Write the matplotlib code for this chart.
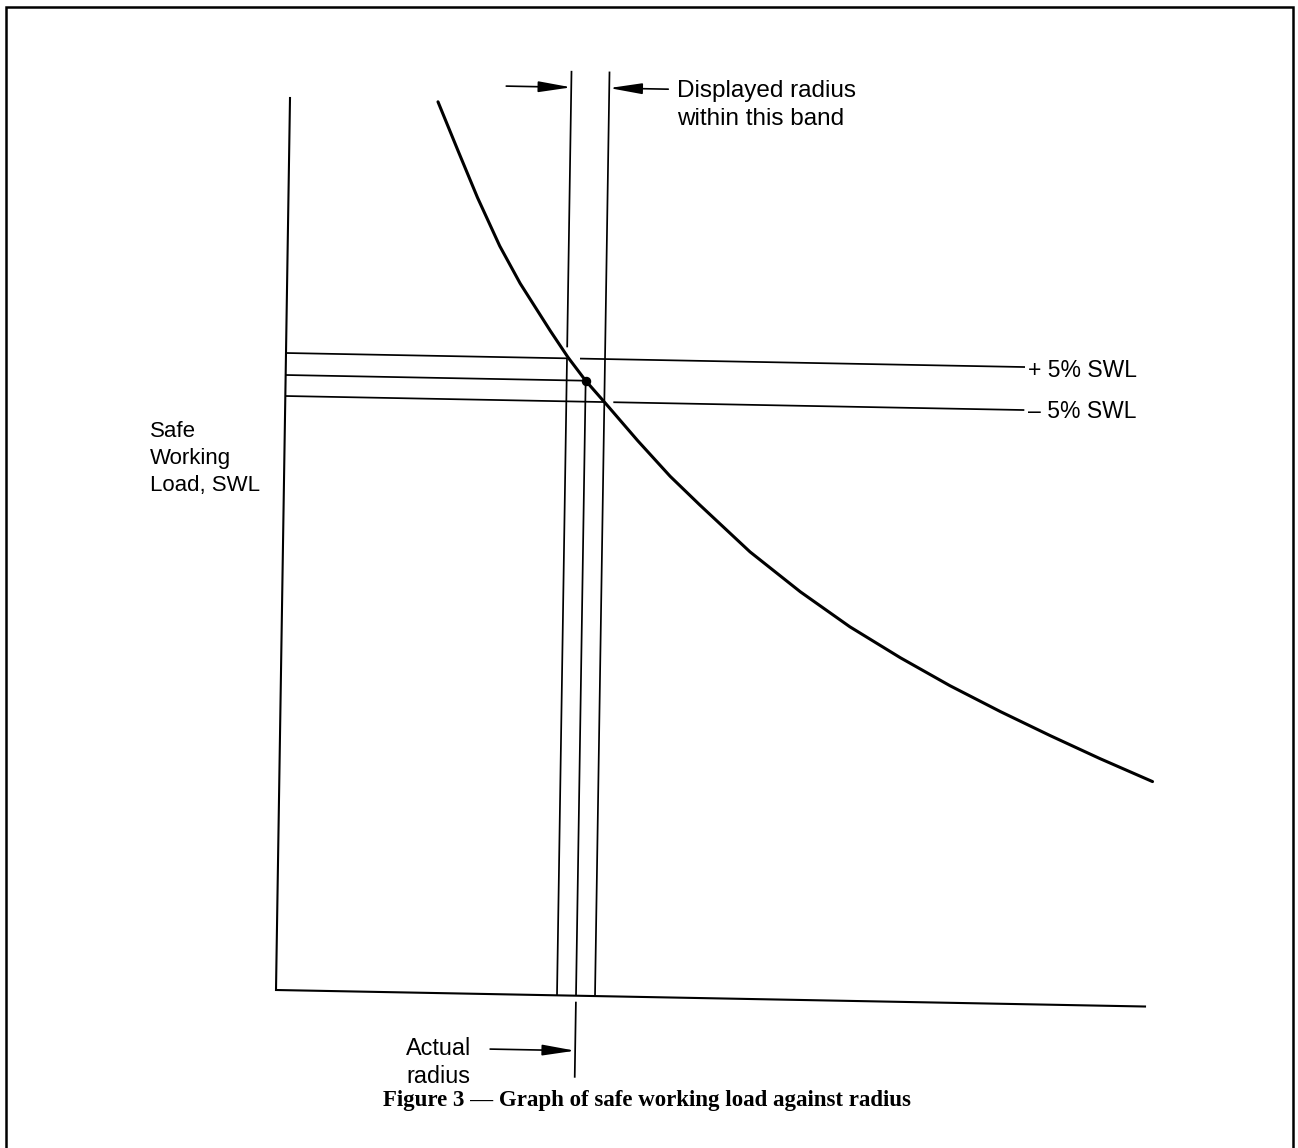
import matplotlib
matplotlib.use("Agg")
import matplotlib.pyplot as plt
from matplotlib.transforms import Affine2D
from matplotlib.lines import Line2D

W, H, DPI = 1298, 1148, 100

# ---- data (drawing units: radius, safe working load) ----
radius_curve = [14.8, 16.9, 18.9, 21.2, 23.3, 26.4, 28.2, 30.0, 32.0, 35.3, 38.6,
                41.6, 46.7, 51.8, 56.8, 61.9, 66.9, 72.0, 77.0, 82.0, 87.3]
swl_curve = [89.1, 84.2, 79.6, 74.8, 71.1, 66.4, 63.8, 61.5, 59.3, 55.6, 52.1,
             49.3, 44.7, 40.8, 37.4, 34.4, 31.7, 29.2, 26.9, 24.7, 22.5]
actual_radius = 30.0
actual_swl = 61.5
swl_limits = [63.7, 59.4]          # +5 % SWL, -5 % SWL
band_radius = [28.1, 31.9]         # displayed radius band
axis_extent = [86.9, 89.2]         # radius axis length, SWL axis height
limit_labels = ["+ 5% SWL", "\u2013 5% SWL"]
ylabel_lines = ["Safe", "Working", "Load, SWL"]
band_label_lines = ["Displayed radius", "within this band"]
actual_label_lines = ["Actual", "radius"]
caption = "Figure 3 \u2014 Graph of safe working load against radius"

# ---- layout ----
band_top = 92.45
limit_line_end = 73.9
arrow_level_top = 90.8
arrow_level_bottom = -5.5

fig = plt.figure(figsize=(W / DPI, H / DPI), dpi=DPI)
ax = fig.add_axes([0, 0, 1, 1])
ax.set_xlim(-27.6, 102.2)
ax.set_ylim(-15.8, 99.0)
ax.axis("off")

# slight skew of the scanned drawing
skew = Affine2D.from_values(1, -0.019, 0.0157, 1, 0, 0) + ax.transData

lkw = dict(color="black", lw=1.25, solid_capstyle="butt", transform=skew)

# axes
ax.plot([0, 0, axis_extent[0]], [axis_extent[1], 0, 0], color="black", lw=1.5,
        solid_joinstyle="miter", transform=skew)

# curve
ax.plot(radius_curve, swl_curve, color="black", lw=2.2, solid_joinstyle="round",
        solid_capstyle="round", transform=skew)

# horizontal SWL lines
ax.plot([0, band_radius[0]], [swl_limits[0]] * 2, **lkw)
ax.plot([band_radius[0] + 1.3, limit_line_end], [swl_limits[0]] * 2, **lkw)
ax.plot([0, actual_radius], [actual_swl] * 2, **lkw)
ax.plot([0, band_radius[1]], [swl_limits[1]] * 2, **lkw)
ax.plot([band_radius[1] + 0.9, limit_line_end], [swl_limits[1]] * 2, **lkw)

# vertical radius lines
ax.plot([band_radius[0]] * 2, [band_top, swl_limits[0] + 1.1], **lkw)
ax.plot([band_radius[0]] * 2, [swl_limits[0], 0], **lkw)
ax.plot([band_radius[1]] * 2, [band_top, 0], **lkw)
ax.plot([actual_radius] * 2, [actual_swl, 0], **lkw)
ax.plot([actual_radius] * 2, [-0.6, -8.2], **lkw)

# actual point
ax.plot([actual_radius], [actual_swl], "o", color="black", ms=5.8, transform=skew)

# arrows
akw = dict(arrowstyle="-|>,head_length=2.0,head_width=0.33", color="black",
           lw=1.2, shrinkA=0, shrinkB=0, mutation_scale=10)
ax.annotate("", xy=(band_radius[0], arrow_level_top), xytext=(21.6, arrow_level_top),
            xycoords=skew, textcoords=skew, arrowprops=akw)
ax.annotate("", xy=(band_radius[1], arrow_level_top), xytext=(37.8, arrow_level_top),
            xycoords=skew, textcoords=skew, arrowprops=akw)
ax.annotate("", xy=(actual_radius, arrow_level_bottom), xytext=(21.5, arrow_level_bottom),
            xycoords=skew, textcoords=skew, arrowprops=akw)

# ---- text (figure pixel positions) ----
px = Affine2D().scale(1, -1).translate(0, H)
fam = ["Liberation Sans", "DejaVu Sans"]
tkw = dict(transform=px, family=fam, ha="left", va="baseline", color="black")

fig.text(677, 97, band_label_lines[0], fontsize=17.5, **tkw)
fig.text(677, 125, band_label_lines[1], fontsize=17.5, **tkw)

fig.text(1028, 377, limit_labels[0], fontsize=16.5, **tkw)
fig.text(1028, 418, limit_labels[1], fontsize=16.5, **tkw)

for i, s in enumerate(ylabel_lines):
    fig.text(150, 437 + 27 * i, s, fontsize=16, **tkw)

fig.text(406, 1055, actual_label_lines[0], fontsize=16.8, **tkw)
fig.text(406, 1083, actual_label_lines[1], fontsize=16.8, **tkw)

fig.text(647, 1106, caption, transform=px, family=["Liberation Serif", "DejaVu Serif"],
         weight="bold", fontsize=16.5, ha="center", va="baseline", color="black")

# frame
fig.add_artist(Line2D([6, 6, 1292.5, 1292.5], [H, 6.5, 6.5, H], transform=px,
                      color="black", lw=1.8, solid_joinstyle="miter"))

fig.savefig("out.png", dpi=DPI, facecolor="white")
